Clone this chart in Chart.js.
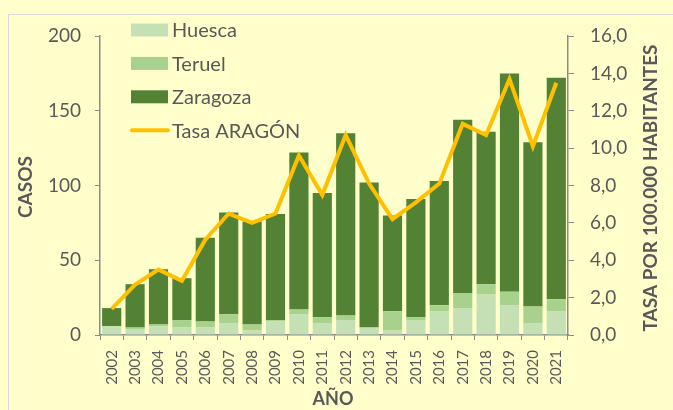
<!DOCTYPE html>
<html>
<head>
<meta charset="utf-8">
<script src="https://cdn.jsdelivr.net/npm/chart.js@4.4.0/dist/chart.umd.min.js"></script>
<style>
  html, body { margin: 0; padding: 0; background: #FFFFCC; overflow: hidden; }
  #frame { position: absolute; left: 8px; top: 14px; width: 700px; height: 420px; border: 1px solid #D9D9D9; box-sizing: border-box; }
  #chart { position: absolute; left: 0; top: 0; }
</style>
</head>
<body>
<div id="frame"></div>
<canvas id="chart" width="673" height="410"></canvas>
<script>
var years = ['2002', '2003', '2004', '2005', '2006', '2007', '2008', '2009', '2010', '2011',
             '2012', '2013', '2014', '2015', '2016', '2017', '2018', '2019', '2020', '2021'];
var huesca   = [6, 4, 6, 5, 5, 8, 3, 9, 14, 8, 10, 5, 3, 10, 16, 18, 27, 20, 8, 16];
var teruel   = [0, 1, 1, 5, 4, 6, 4, 1, 3, 4, 3, 0, 13, 2, 4, 10, 7, 9, 11, 8];
var zaragoza = [12, 29, 37, 28, 56, 68, 69, 71, 105, 83, 122, 97, 64, 79, 83, 116, 102, 146, 110, 148];
var tasa     = [1.4, 2.7, 3.5, 2.9, 5.1, 6.5, 6.0, 6.5, 9.6, 7.5, 10.7, 8.1, 6.2, 7.1, 8.1, 11.3, 10.7, 13.7, 10.1, 13.5];

var casosTicks = [0, 50, 100, 150, 200];
var tasaTicks = [0, 2, 4, 6, 8, 10, 12, 14, 16];

var xTitle = 'AÑO';
var yTitle = 'CASOS';
var y1Title = 'TASA POR 100.000 HABITANTES';

var textColor = '#595959';
var axisColor = '#8C8C8C';
var font = 'Lato';

// legend + axis titles drawn on top of the plot
var overlay = {
  id: 'overlay',
  afterDraw: function (chart) {
    var ctx = chart.ctx;
    ctx.save();
    ctx.fillStyle = textColor;
    ctx.textAlign = 'center';
    ctx.textBaseline = 'middle';
    ctx.font = 'bold 19px ' + font;

    ctx.save();
    ctx.translate(26, 187);
    ctx.rotate(-Math.PI / 2);
    ctx.fillText(yTitle, 0, 0);
    ctx.restore();

    ctx.save();
    ctx.translate(651, 188);
    ctx.rotate(-Math.PI / 2);
    ctx.fillText(y1Title, 0, 0);
    ctx.restore();

    ctx.font = 'bold 18px ' + font;
    ctx.fillText(xTitle, 333, 399);

    ctx.font = '20px ' + font;
    ctx.textAlign = 'left';
    chart.data.datasets.forEach(function (ds, i) {
      var y = 30 + i * 33.4;
      if (ds.type === 'line') {
        ctx.strokeStyle = ds.borderColor;
        ctx.lineWidth = 4;
        ctx.lineCap = 'round';
        ctx.beginPath();
        ctx.moveTo(132, y);
        ctx.lineTo(168, y);
        ctx.stroke();
      } else {
        ctx.fillStyle = ds.backgroundColor;
        ctx.fillRect(131, y - 6.5, 37, 13);
      }
      ctx.fillStyle = textColor;
      ctx.fillText(ds.label, 172, y + 1);
    });
    ctx.restore();
  }
};

var config = {
  type: 'bar',
  data: {
    labels: years,
    datasets: [
      { label: 'Huesca', data: huesca, backgroundColor: '#C5E0B4', order: 1 },
      { label: 'Teruel', data: teruel, backgroundColor: '#A9D18E', order: 1 },
      { label: 'Zaragoza', data: zaragoza, backgroundColor: '#548235', order: 1 },
      {
        type: 'line',
        label: 'Tasa ARAGÓN',
        data: tasa,
        yAxisID: 'y1',
        borderColor: '#FFC000',
        borderWidth: 4,
        pointRadius: 0,
        tension: 0,
        order: 0
      }
    ]
  },
  options: {
    responsive: false,
    animation: false,
    categoryPercentage: 1,
    barPercentage: 0.82,
    layout: { padding: { top: 36, left: 0, right: 0, bottom: 0 } },
    plugins: {
      legend: { display: false },
      tooltip: { enabled: false }
    },
    scales: {
      x: {
        stacked: true,
        grid: { display: true, drawOnChartArea: false, offset: true, tickLength: 5, color: axisColor },
        border: { color: axisColor, width: 1.5 },
        ticks: { minRotation: 90, maxRotation: 90, autoSkip: false, padding: 10, color: textColor, font: { family: font, size: 15 } },
        afterFit: function (s) { s.height = 75; }
      },
      y: {
        stacked: true,
        min: casosTicks[0],
        max: casosTicks[casosTicks.length - 1],
        grid: { drawOnChartArea: false, tickLength: 5, color: axisColor },
        border: { color: axisColor, width: 1.5 },
        ticks: { stepSize: 50, padding: 14, color: textColor, font: { family: font, size: 19 } },
        afterFit: function (s) { s.width = 100; }
      },
      y1: {
        position: 'right',
        min: tasaTicks[0],
        max: tasaTicks[tasaTicks.length - 1],
        grid: { drawOnChartArea: false, tickLength: 6, color: axisColor },
        border: { color: axisColor, width: 1.5 },
        ticks: {
          stepSize: 2,
          padding: 16,
          color: textColor,
          font: { family: font, size: 19 },
          callback: function (v) { return v.toFixed(1).replace('.', ','); }
        },
        afterFit: function (s) { s.width = 105; }
      }
    }
  },
  plugins: [overlay]
};

window.onload = function () {
  var ctx = document.getElementById('chart');
  window.myChart = new Chart(ctx, config);
};
</script>
</body>
</html>
